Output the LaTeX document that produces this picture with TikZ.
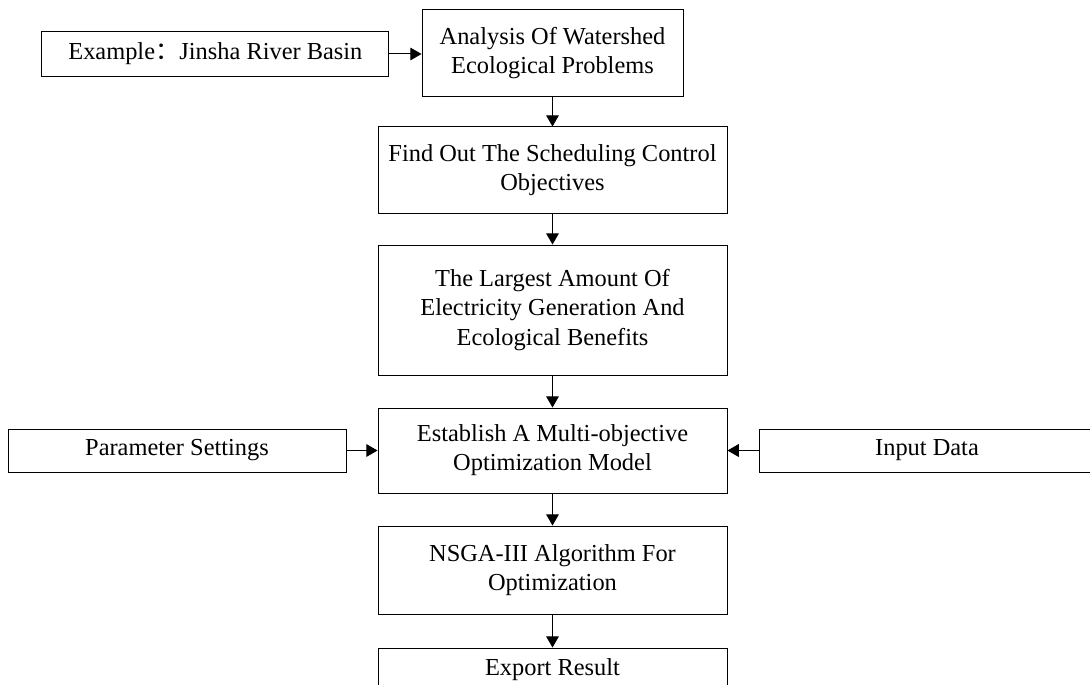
\documentclass[tikz,border=0pt]{standalone}
\usepackage{fontspec}
\setmainfont{Liberation Serif}
\newfontfamily\cjk{Noto Sans CJK SC}
\usetikzlibrary{arrows}

\tikzset{
  box/.style={draw, line width=0.5pt, align=center, inner sep=0pt,
    font=\fontsize{12.2}{14.6}\selectfont},
  link/.style={->, line width=0.5pt}
}

\begin{document}
\begin{tikzpicture}[x=0.5pt, y=-0.5pt, >=triangle 60]
  \useasboundingbox (0,0) rectangle (1090,684);
  \node [box, minimum width=173.5pt, minimum height=22.25pt] (example) at (215.4,54) {Example{\cjk ：}Jinsha River Basin};
  \node [box, minimum width=130.5pt, minimum height=43.5pt] (analysis) at (552.5,53.4) {Analysis Of Watershed\\Ecological Problems};
  \node [box, minimum width=174.5pt, minimum height=43pt] (find) at (552.5,170) {Find Out The Scheduling Control\\Objectives};
  \node [box, minimum width=174.5pt, minimum height=65pt] (largest) at (552.5,310) {The Largest Amount Of\\Electricity Generation And\\Ecological Benefits};
  \node [box, minimum width=174.5pt, minimum height=42.5pt] (model) at (552.5,450.5) {Establish A Multi-objective\\Optimization Model};
  \node [box, minimum width=169pt, minimum height=21.5pt] (param) at (177,450.5) {Parameter Settings};
  \node [box, minimum width=168pt, minimum height=21.5pt] (input) at (927,450.5) {Input Data};
  \node [box, minimum width=174.5pt, minimum height=44pt] (nsga) at (552.5,570) {NSGA-III Algorithm For\\Optimization};
  \node [box, minimum width=174.5pt, minimum height=22pt] (export) at (552.5,670) {Export Result};

  \draw [link] (example.east) -- (example.east -| analysis.west);
  \draw [link] (analysis) -- (find);
  \draw [link] (find) -- (largest);
  \draw [link] (largest) -- (model);
  \draw [link] (param) -- (model);
  \draw [link] (input) -- (model);
  \draw [link] (model) -- (nsga);
  \draw [link] (nsga) -- (export);
\end{tikzpicture}
\end{document}
